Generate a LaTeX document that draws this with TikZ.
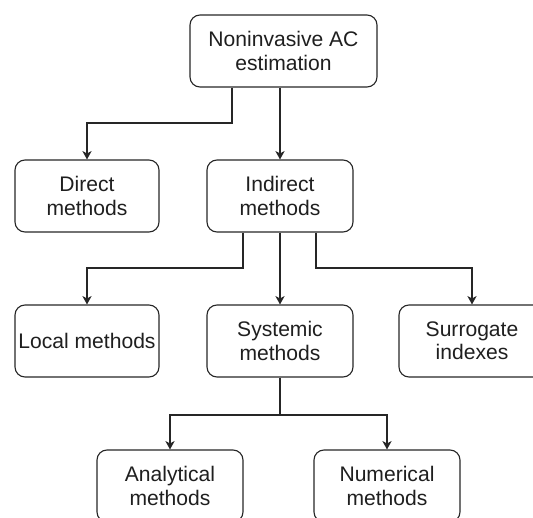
\documentclass[tikz,border=0pt]{standalone}
\usepackage{fontspec}
\setmainfont{Liberation Sans}
\usetikzlibrary{arrows.meta}
\definecolor{boxline}{rgb}{0.15,0.15,0.15}
\definecolor{boxtext}{rgb}{0.12,0.12,0.12}

\begin{document}
\begin{tikzpicture}[
  >={Stealth[length=4.2mm, width=4.6mm, inset=1.2mm]},
  every node/.style={font=\fontsize{30}{33}\selectfont},
  method/.style={rectangle, rounded corners=5mm, draw=boxline, line width=1.6pt, text=boxtext,
                 align=center, inner sep=0pt, minimum width=7.3cm, minimum height=3.6cm},
  edge/.style={->, line width=1.6pt, draw=boxline},
]
\useasboundingbox (0,0) rectangle (26.65,25.9);

% ---- top level ----
\node[method, minimum width=9.35cm] (root) at (14.175, 23.35) {Noninvasive AC\\estimation};

% ---- second level ----
\node[method, minimum width=7.2cm] (direct)   at (4.35, 16.1) {Direct\\methods};
\node[method]                      (indirect) at (14.00, 16.1) {Indirect\\methods};

% ---- third level ----
\node[method, minimum width=7.2cm] (local)     at (4.35, 8.85)  {Local methods};
\node[method]                      (systemic)  at (14.00, 8.85) {Systemic\\methods};
\node[method]                      (surrogate) at (23.60, 8.85) {Surrogate\\indexes};

% ---- fourth level (cut by the page bottom) ----
\node[method] (analytical) at (8.50, 1.6)  {Analytical\\methods};
\node[method] (numerical)  at (19.35, 1.6) {Numerical\\methods};

% ---- bends of the elbow connectors ----
\coordinate (jA) at (11.60, 19.75);
\coordinate (jB) at (12.15, 12.50);
\coordinate (jC) at (15.80, 12.50);
\coordinate (jD) at (14.00, 5.15);

% ---- edges ----
\draw[edge] (root.south -| jA) -- (jA) -| (direct);
\draw[edge] (root.south -| indirect) -- (indirect);
\draw[edge] (indirect.south -| jB) -- (jB) -| (local);
\draw[edge] (indirect) -- (systemic);
\draw[edge] (indirect.south -| jC) -- (jC) -| (surrogate);
\draw[edge] (systemic) -- (jD) -| (analytical);
\draw[edge] (systemic) -- (jD) -| (numerical);

\end{tikzpicture}
\end{document}
